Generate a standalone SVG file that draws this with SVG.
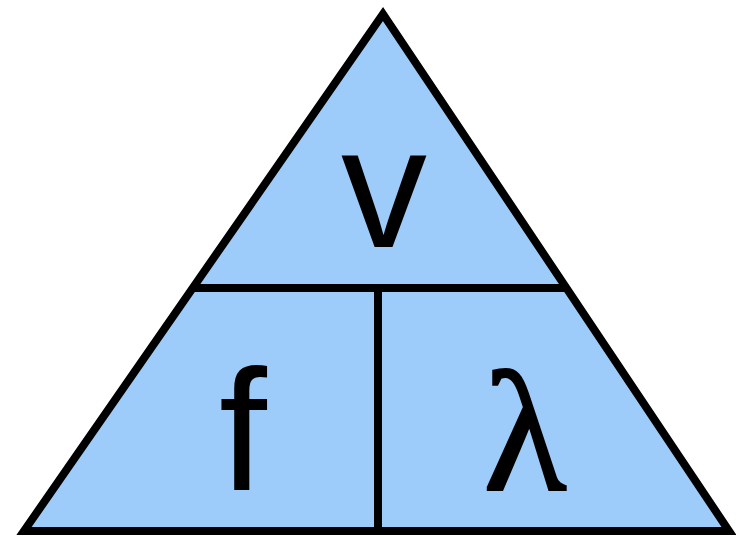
<svg xmlns="http://www.w3.org/2000/svg" width="736" height="539" viewBox="0 0 736 539">
<style>
.ln{stroke:#000;stroke-width:8;fill:none;stroke-linecap:butt}
.t{font-family:"Liberation Sans",Arial,sans-serif;font-size:172px;fill:#000;text-anchor:middle}
.s{font-family:"Liberation Serif","Times New Roman",serif;font-size:172px;fill:#000;stroke:#000;stroke-width:2;text-anchor:middle}
</style>
<rect width="736" height="539" fill="#fff"/>
<g id="triangle">
<polygon points="383,14 24,531 729,531" fill="#9dcbfa" stroke="#000" stroke-width="8" stroke-linejoin="miter"/>
</g>
<g id="connectors">
<line class="ln" x1="193" y1="288" x2="567" y2="288"/>
<line class="ln" x1="378" y1="288" x2="378" y2="531"/>
</g>
<g id="node-v"><text class="t" x="384" y="247">v</text></g>
<g id="node-f"><text class="t" x="243" y="490">f</text></g>
<g id="node-lambda"><text class="s" x="525" y="490">λ</text></g>
</svg>
